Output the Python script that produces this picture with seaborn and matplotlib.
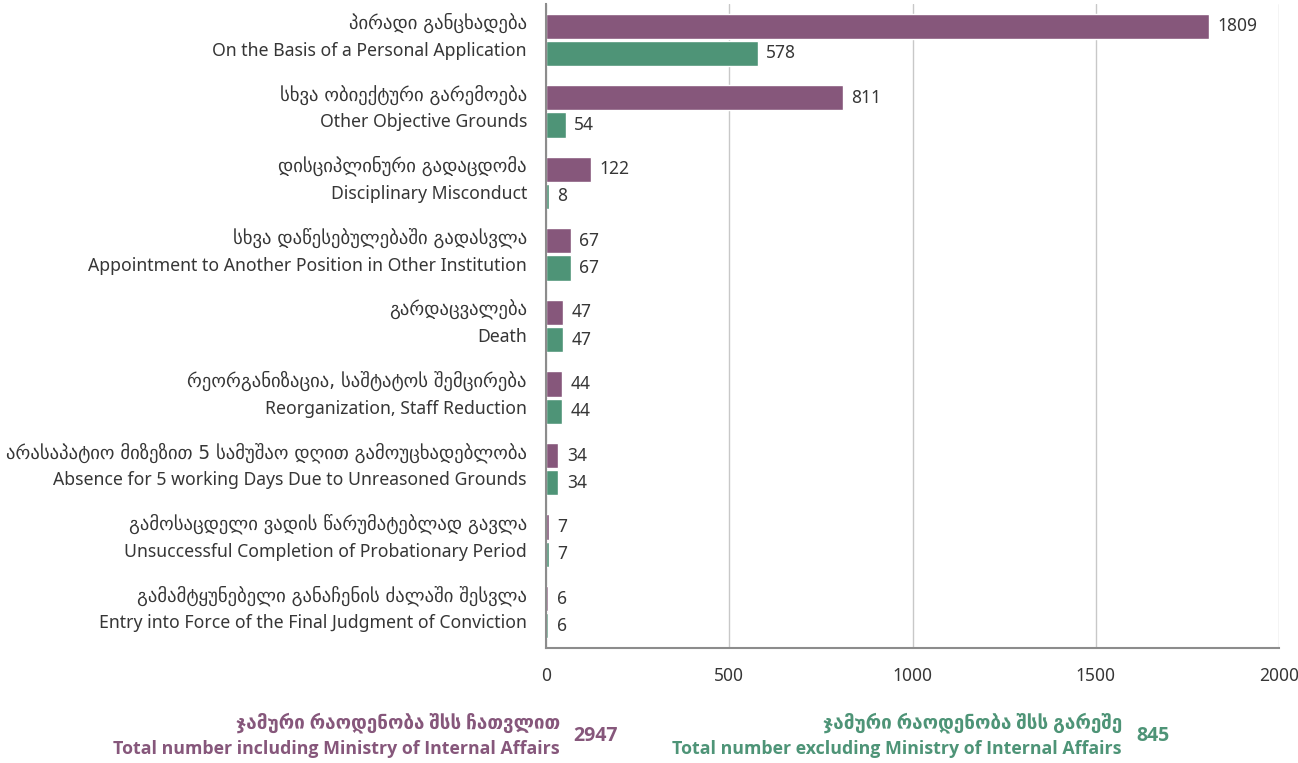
import matplotlib
matplotlib.use("Agg")
import matplotlib.pyplot as plt
import seaborn as sns
import pandas as pd

# Reasons for dismissal (Georgian / English)
reasons_ka = [
    "პირადი განცხადება",
    "სხვა ობიექტური გარემოება",
    "დისციპლინური გადაცდომა",
    "სხვა დაწესებულებაში გადასვლა",
    "გარდაცვალება",
    "რეორგანიზაცია, საშტატოს შემცირება",
    "არასაპატიო მიზეზით 5 სამუშაო დღით გამოუცხადებლობა",
    "გამოსაცდელი ვადის წარუმატებლად გავლა",
    "გამამტყუნებელი განაჩენის ძალაში შესვლა",
]
reasons_en = [
    "On the Basis of a Personal Application",
    "Other Objective Grounds",
    "Disciplinary Misconduct",
    "Appointment to Another Position in Other Institution",
    "Death",
    "Reorganization, Staff Reduction",
    "Absence for 5 working Days Due to Unreasoned Grounds",
    "Unsuccessful Completion of Probationary Period",
    "Entry into Force of the Final Judgment of Conviction",
]
with_mia = [1809, 811, 122, 67, 47, 44, 34, 7, 6]
without_mia = [578, 54, 8, 67, 47, 44, 34, 7, 6]

series_names = ["including", "excluding"]
total_with = 2947
total_without = 845

PURPLE = "#86577B"
GREEN = "#4E9477"
TEXT = "#363636"

sns.set_theme(style="white")
plt.rcParams["font.family"] = ["Noto Sans", "DejaVu Sans"]
BOLD_FAMILY = ["Open Sans", "DejaVu Sans"]

df = pd.DataFrame({
    "reason": reasons_en * 2,
    "count": with_mia + without_mia,
    "series": [series_names[0]] * len(reasons_en) + [series_names[1]] * len(reasons_en),
})

fig = plt.figure(figsize=(12.98, 7.63), dpi=100)
ax = fig.add_axes([546 / 1298, 1 - 648 / 763, (1279 - 546) / 1298, (648 - 4) / 763])

sns.barplot(
    data=df, y="reason", x="count", hue="series",
    palette=[PURPLE, GREEN], orient="h", width=0.76, gap=0.07,
    saturation=1, legend=False, ax=ax,
)

ax.set_xlim(0, 2000)
ax.set_xticks([0, 500, 1000, 1500, 2000])
ax.set_xlabel("")
ax.set_ylabel("")
ax.xaxis.grid(True, color="#c8c8c8", linewidth=1)
ax.set_axisbelow(True)
for side in ("top", "right"):
    ax.spines[side].set_visible(False)
for side in ("left", "bottom"):
    ax.spines[side].set_color("#8c8c8c")
    ax.spines[side].set_linewidth(1.5)

ax.tick_params(axis="x", length=0, pad=14, labelsize=12.5, labelcolor=TEXT)
ax.tick_params(axis="y", length=0)

# Two-line category labels: Georgian above, English below
ticks = ax.get_yticks()
ax.set_yticklabels([])
ylab_trans = ax.get_yaxis_transform()
for pos, ka, en in zip(ticks, reasons_ka, reasons_en):
    ax.annotate(ka, xy=(0, pos), xycoords=ylab_trans, xytext=(-13.7, 12.0),
                textcoords="offset points", ha="right", va="center",
                fontsize=13.4, color=TEXT, family=["DejaVu Sans"], annotation_clip=False)
    ax.annotate(en, xy=(0, pos), xycoords=ylab_trans, xytext=(-13.7, -8.0),
                textcoords="offset points", ha="right", va="center",
                fontsize=12.7, color=TEXT, annotation_clip=False)

for container in ax.containers:
    ax.bar_label(container, fmt="%d", padding=6, fontsize=12.5, color=TEXT)

# Totals below the chart
fig.text(560 / 1298, 1 - 723 / 763, "ჯამური რაოდენობა შსს ჩათვლით",
         ha="right", va="center", fontsize=13.6, color=PURPLE, fontweight="bold",
         family=BOLD_FAMILY)
fig.text(560 / 1298, 1 - 749 / 763, "Total number including Ministry of Internal Affairs",
         ha="right", va="center", fontsize=12.8, color=PURPLE, fontweight="bold",
         family=BOLD_FAMILY)
fig.text(573 / 1298, 1 - 736 / 763, f"{total_with}",
         ha="left", va="center", fontsize=14, color=PURPLE, fontweight="bold",
         family=BOLD_FAMILY)

fig.text(1122 / 1298, 1 - 723 / 763, "ჯამური რაოდენობა შსს გარეშე",
         ha="right", va="center", fontsize=13.6, color=GREEN, fontweight="bold",
         family=BOLD_FAMILY)
fig.text(1122 / 1298, 1 - 749 / 763, "Total number excluding Ministry of Internal Affairs",
         ha="right", va="center", fontsize=12.8, color=GREEN, fontweight="bold",
         family=BOLD_FAMILY)
fig.text(1136 / 1298, 1 - 736 / 763, f"{total_without}",
         ha="left", va="center", fontsize=14, color=GREEN, fontweight="bold",
         family=BOLD_FAMILY)

fig.savefig("out.png", dpi=100, facecolor="white")
